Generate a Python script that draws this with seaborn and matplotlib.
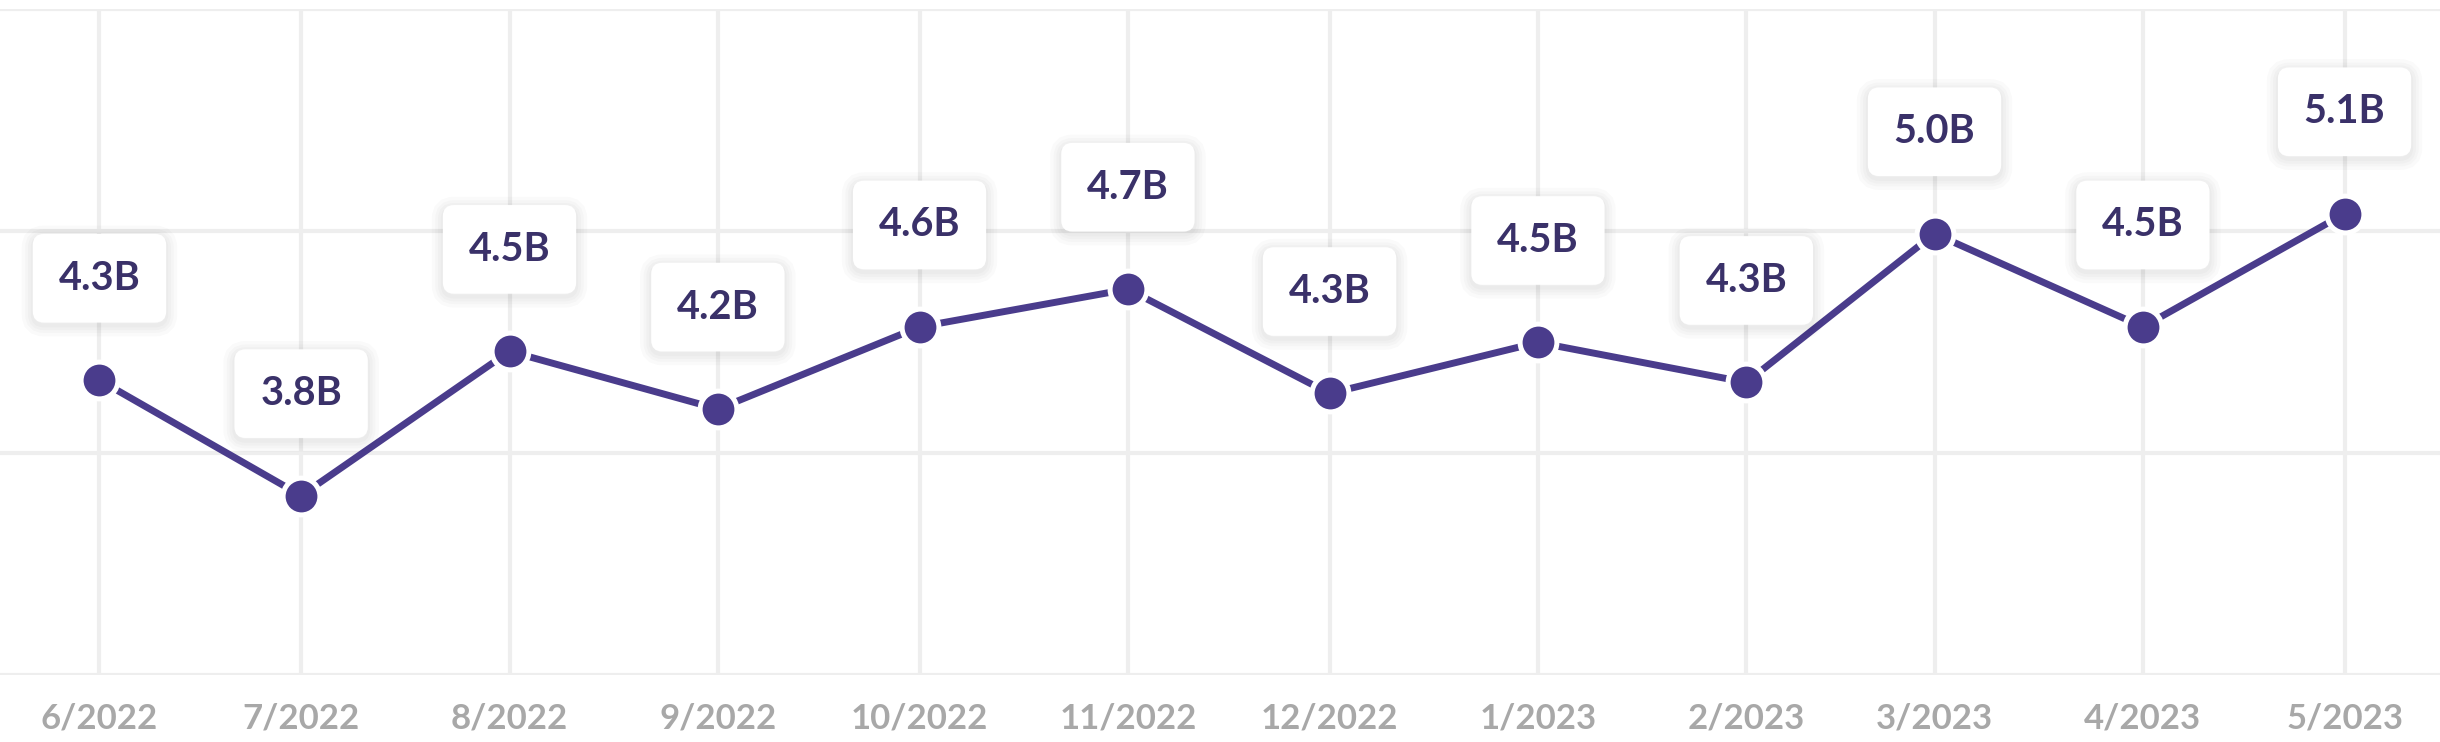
import pandas as pd
import numpy as np
import matplotlib
matplotlib.use('Agg')
import matplotlib.pyplot as plt
import matplotlib.dates as mdates
import matplotlib.patheffects as pe
import seaborn as sns

# values (billions)
months = ['2022-06-01', '2022-07-01', '2022-08-01', '2022-09-01', '2022-10-01', '2022-11-01',
          '2022-12-01', '2023-01-01', '2023-02-01', '2023-03-01', '2023-04-01', '2023-05-01']
values = [4.33, 3.81, 4.46, 4.20, 4.57, 4.74, 4.27, 4.50, 4.32, 4.99, 4.57, 5.08]
point_labels = ['4.3B', '3.8B', '4.5B', '4.2B', '4.6B', '4.7B', '4.3B', '4.5B', '4.3B', '5.0B', '4.5B', '5.1B']
tick_labels = ['6/2022', '7/2022', '8/2022', '9/2022', '10/2022', '11/2022',
               '12/2022', '1/2023', '2/2023', '3/2023', '4/2023', '5/2023']
grid_values = [3, 4, 5, 6]

df = pd.DataFrame({'month': pd.to_datetime(months), 'value': values})

sns.set_style('white')
plt.rcParams['font.family'] = ['Lato', 'DejaVu Sans']

line_color = '#4a3c8c'
text_color = '#3a3169'
grid_color = '#eeeeee'

fig = plt.figure(figsize=(24.4, 7.42), dpi=100)
ax = fig.add_axes([0, 0.0898, 1, 0.8974])

sns.lineplot(data=df, x='month', y='value', ax=ax, color=line_color, linewidth=5,
             marker='o', markersize=26.5, markeredgecolor='white', markeredgewidth=3.6,
             zorder=3)

# x range: about half a month either side
ax.set_xlim(df['month'].iloc[0] - pd.Timedelta(days=14.8),
            df['month'].iloc[-1] + pd.Timedelta(days=14.2))
ax.set_ylim(grid_values[0], grid_values[-1])

ax.set_xticks(df['month'])
ax.set_xticklabels(tick_labels)
ax.set_yticks(grid_values)
ax.tick_params(axis='y', length=0, labelleft=False)
ax.tick_params(axis='x', length=8, width=3, color=grid_color, pad=11.5,
               labelsize=25, labelcolor='#a8a8a8')
for t in ax.get_xticklabels():
    t.set_fontweight('bold')

ax.grid(True, color=grid_color, linewidth=3)
ax.set_axisbelow(True)
for s in ax.spines.values():
    s.set_visible(False)
ax.set_xlabel('')
ax.set_ylabel('')

# label boxes above each point
shadow = [pe.Stroke(offset=(0, -2), linewidth=w, foreground='black', alpha=0.02)
          for w in (16, 11, 7, 3)] + [pe.Normal()]
for x, y, lbl in zip(df['month'], df['value'], point_labels):
    t = ax.annotate(lbl, (mdates.date2num(x), y), xytext=(0, 73.4), textcoords='offset points',
                    ha='center', va='center', fontsize=28.6, fontweight='bold', color=text_color,
                    bbox=dict(boxstyle='round,pad=0.65,rounding_size=0.28', fc='white', ec='none'),
                    zorder=5)
    t.get_bbox_patch().set_path_effects(shadow)

fig.savefig('out.png', dpi=100)
